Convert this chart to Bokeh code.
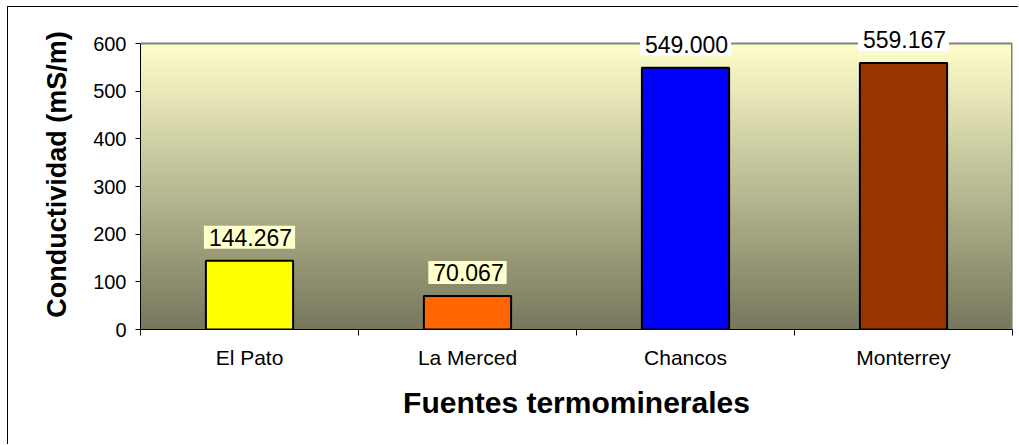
import numpy as np
from bokeh.plotting import figure
from bokeh.models import ColumnDataSource, Label, Range1d, FixedTicker, Span
from bokeh.embed import file_html
from bokeh.resources import INLINE

# ---- data ----
categories = ["El Pato", "La Merced", "Chancos", "Monterrey"]
values = [144.267, 70.067, 549.000, 559.167]
bar_colors = ["#FFFF00", "#FF6600", "#0000FF", "#993300"]
label_bg = ["#FFFFCC", "#FFFFCC", "#FFFFFF", "#FFFFFF"]
y_ticks = [0, 100, 200, 300, 400, 500, 600]
y_title = "Conductividad (mS/m)"
x_title = "Fuentes termominerales"

FONT = "Liberation Sans"

# layout: visible plot area 286px tall for the tick span; frame is taller so
# labels above the top can be drawn without being clipped
AREA_H = 286
FRAME_H = 310
y_lo, y_hi = y_ticks[0], y_ticks[-1]
y_end = y_lo + (y_hi - y_lo) * FRAME_H / AREA_H

x = [i + 0.5 for i in range(len(categories))]
labels = [f"{v:.3f}" for v in values]
src = ColumnDataSource(dict(x=x, top=values, color=bar_colors, label=labels, bg=label_bg))

p = figure(width=1011, height=438,
           x_range=Range1d(0, len(categories)), y_range=Range1d(y_lo, y_end),
           output_backend="svg", toolbar_location=None,
           min_border_left=132, min_border_right=7, min_border_top=12, min_border_bottom=116)
p.styles = {"margin-left": "7px", "margin-top": "6px",
            "border-top": "1px solid black", "border-left": "1px solid black"}

# gradient plot-area background (style only)
n = 256
img = np.empty((n, 1), dtype=np.uint32)
view = img.view(dtype=np.uint8).reshape((n, 1, 4))
top_c = np.array([255, 255, 204], dtype=float)
bot_c = np.array([119, 119, 92], dtype=float)
for i in range(n):
    t = i / (n - 1)
    c = bot_c + (top_c - bot_c) * t
    view[i, 0, 0:3] = np.round(c).astype(np.uint8)
    view[i, 0, 3] = 255
p.image_rgba(image=[img], x=0, y=y_lo, dw=len(categories), dh=y_hi - y_lo)

# plot-area border (top and right, gray)
p.add_layout(Span(location=y_hi, dimension="width", line_color="#808080", line_width=2))
p.segment(x0=[len(categories)], y0=[y_lo], x1=[len(categories)], y1=[y_hi],
          line_color="#808080", line_width=3)

p.vbar(x="x", top="top", bottom=0, width=0.4, fill_color="color",
       line_color="black", line_width=2, source=src)

for xi, v, t, bg in zip(x, values, labels, label_bg):
    p.add_layout(Label(x=xi, y=v, text=t, text_align="center", text_baseline="bottom",
                       y_offset=12, text_font=FONT, text_font_size="23px",
                       text_color="black", background_fill_color=bg,
                       padding=(5, 3, 3, 3)))

p.xgrid.visible = False
p.ygrid.visible = False
p.background_fill_color = "white"
p.border_fill_color = "white"
p.outline_line_color = None

# x axis
p.xaxis.ticker = FixedTicker(ticks=x, minor_ticks=list(range(len(categories) + 1)))
p.xaxis.major_label_overrides = {xi: c for xi, c in zip(x, categories)}
p.xaxis.major_tick_out = 0
p.xaxis.major_tick_in = 0
p.xaxis.minor_tick_out = 6
p.xaxis.minor_tick_in = 0
p.xaxis.minor_tick_line_color = "black"
p.xaxis.axis_line_color = "black"
p.xaxis.axis_line_width = 1
p.xaxis.major_label_text_font = FONT
p.xaxis.major_label_text_font_size = "21px"
p.xaxis.major_label_text_color = "black"
p.xaxis.major_label_standoff = 10
p.xaxis.axis_label = x_title
p.xaxis.axis_label_text_font = FONT
p.xaxis.axis_label_text_font_size = "30px"
p.xaxis.axis_label_text_font_style = "bold"
p.xaxis.axis_label_text_color = "black"
p.xaxis.axis_label_standoff = 14

# y axis
p.yaxis.ticker = FixedTicker(ticks=y_ticks)
p.yaxis.bounds = (y_lo, y_hi)
p.yaxis.major_tick_out = 5
p.yaxis.major_tick_in = 0
p.yaxis.minor_tick_out = 0
p.yaxis.minor_tick_in = 0
p.yaxis.axis_line_color = "black"
p.yaxis.major_tick_line_color = "black"
p.yaxis.major_label_text_font = FONT
p.yaxis.major_label_text_font_size = "20px"
p.yaxis.major_label_text_color = "black"
p.yaxis.major_label_standoff = 9
p.yaxis.axis_label = y_title
p.yaxis.axis_label_text_font = FONT
p.yaxis.axis_label_text_font_size = "27px"
p.yaxis.axis_label_text_font_style = "bold"
p.yaxis.axis_label_text_color = "black"
p.yaxis.axis_label_standoff = 18

open("out.html", "w").write(file_html(p, INLINE))
